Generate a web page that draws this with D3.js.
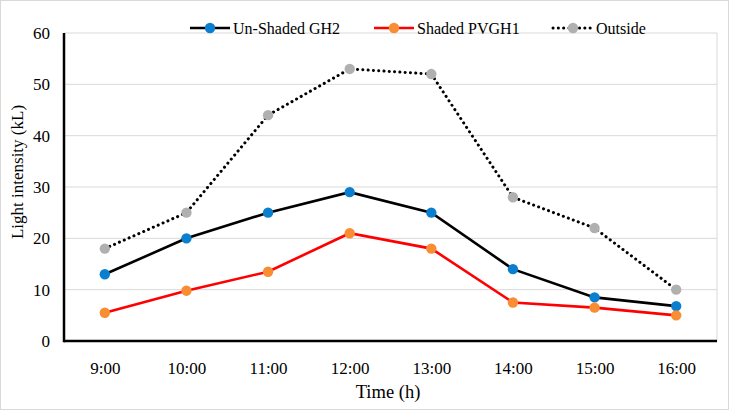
<!DOCTYPE html>
<html>
<head>
<meta charset="utf-8">
<script src="https://cdn.jsdelivr.net/npm/d3@7"></script>
<style>
  body { margin: 0; background: #fff; }
  text { font-family: "Liberation Serif", "Times New Roman", serif; fill: #000; }
</style>
</head>
<body>
<div id="chart"></div>
<script>
// data
var hours = ["9:00", "10:00", "11:00", "12:00", "13:00", "14:00", "15:00", "16:00"];
var unshadedGH2 = [13, 20, 25, 29, 25, 14, 8.5, 6.8];
var shadedPVGH1 = [5.5, 9.8, 13.5, 21, 18, 7.5, 6.5, 5];
var outside = [18, 25, 44, 53, 52, 28, 22, 10];
var yTicks = [0, 10, 20, 30, 40, 50, 60];

var seriesList = [
  {name: "Un-Shaded GH2", values: unshadedGH2, line: "#000", dot: "#0a7fcf", dash: null},
  {name: "Shaded PVGH1", values: shadedPVGH1, line: "#ff0000", dot: "#f98d33", dash: null},
  {name: "Outside", values: outside, line: "#000", dot: "#b0b0b0", dash: "0.1 5.2"}
];

var svgWidth = 729, svgHeight = 410;
var margin = {top: 33, right: 12, bottom: 69, left: 64};
var chartWidth = svgWidth - margin.left - margin.right;
var chartHeight = svgHeight - margin.top - margin.bottom;

var svg = d3.select("#chart").append("svg")
  .attr("width", svgWidth).attr("height", svgHeight);

// outer border
svg.append("rect").attr("x", 0.5).attr("y", 0.5)
  .attr("width", svgWidth - 1).attr("height", svgHeight - 1)
  .attr("fill", "#fff").attr("stroke", "#d9d9d9");

var chartGroup = svg.append("g")
  .attr("transform", `translate(${margin.left}, ${margin.top})`);

var xScale = d3.scalePoint().domain(hours).range([0, chartWidth]).padding(0.5);
var yScale = d3.scaleLinear().domain([0, 60]).range([chartHeight, 0]);

// gridlines + right border of plot area
chartGroup.selectAll("line.grid").data(yTicks).enter().append("line")
  .attr("class", "grid")
  .attr("x1", 0).attr("x2", chartWidth)
  .attr("y1", d => yScale(d)).attr("y2", d => yScale(d))
  .attr("stroke", "#d9d9d9").attr("stroke-width", 1);
chartGroup.append("line")
  .attr("x1", chartWidth).attr("x2", chartWidth).attr("y1", 0).attr("y2", chartHeight)
  .attr("stroke", "#d9d9d9");

// axes
var leftAxis = d3.axisLeft(yScale).tickValues(yTicks).tickSize(0).tickPadding(14);
var yAxis = chartGroup.append("g").call(leftAxis);
yAxis.select(".domain").remove();
yAxis.selectAll("text").style("font-size", "17px")
  .style("font-family", "Liberation Serif, serif");

var bottomAxis = d3.axisBottom(xScale).tickSize(0).tickPadding(21);
var xAxis = chartGroup.append("g")
  .attr("transform", `translate(0, ${chartHeight})`).call(bottomAxis);
xAxis.select(".domain").remove();
xAxis.selectAll("text").style("font-size", "17px")
  .style("font-family", "Liberation Serif, serif");

chartGroup.append("line")
  .attr("x1", 0).attr("x2", chartWidth).attr("y1", chartHeight).attr("y2", chartHeight)
  .attr("stroke", "#000").attr("stroke-width", 2.5);
chartGroup.append("line")
  .attr("x1", 0).attr("x2", 0).attr("y1", 0).attr("y2", chartHeight + 1.2)
  .attr("stroke", "#000").attr("stroke-width", 2.5);

// lines and markers
var lineGen = d3.line()
  .x((d, i) => xScale(hours[i]))
  .y(d => yScale(d));

seriesList.forEach(function(s) {
  chartGroup.append("path")
    .datum(s.values)
    .attr("d", lineGen)
    .attr("fill", "none")
    .attr("stroke", s.line)
    .attr("stroke-width", s.dash ? 3 : 2.6)
    .attr("stroke-linecap", s.dash ? "round" : "butt")
    .attr("stroke-dasharray", s.dash);
  chartGroup.selectAll(null).data(s.values).enter().append("circle")
    .attr("cx", (d, i) => xScale(hours[i]))
    .attr("cy", d => yScale(d))
    .attr("r", 5.2)
    .attr("fill", s.dot);
});

// axis titles
svg.append("text")
  .attr("transform", "translate(23, 172) rotate(-90)")
  .attr("text-anchor", "middle")
  .style("font-size", "17px")
  .text("Light intensity (kL)");
svg.append("text")
  .attr("x", 388).attr("y", 398)
  .attr("text-anchor", "middle")
  .style("font-size", "18.5px")
  .text("Time (h)");

// legend
var legendX = [190, 374, 553];
var legend = svg.append("g").attr("transform", "translate(0, 28)");
seriesList.forEach(function(s, i) {
  var g = legend.append("g").attr("transform", `translate(${legendX[i]}, 0)`);
  g.append("line").attr("x1", 0).attr("x2", 40).attr("y1", 0).attr("y2", 0)
    .attr("stroke", s.line).attr("stroke-width", s.dash ? 3 : 2.6)
    .attr("stroke-linecap", s.dash ? "round" : "butt")
    .attr("stroke-dasharray", s.dash);
  g.append("circle").attr("cx", 20).attr("cy", 0).attr("r", 5.2).attr("fill", s.dot);
  g.append("text").attr("x", 43).attr("y", 5.5)
    .style("font-size", "16px")
    .text(s.name);
});
</script>
</body>
</html>
